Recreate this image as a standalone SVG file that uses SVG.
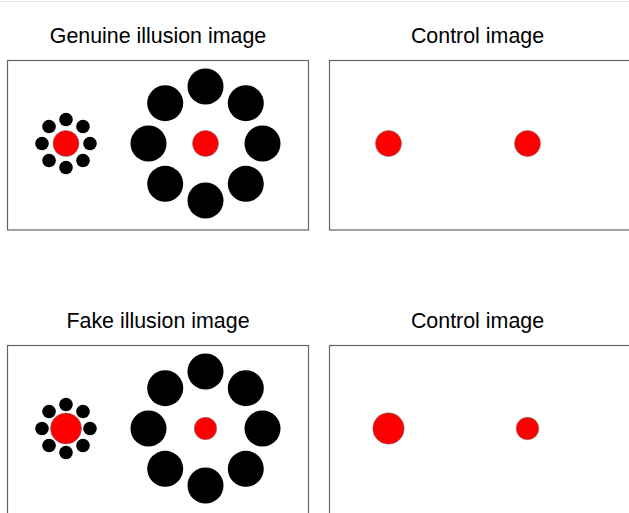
<svg xmlns="http://www.w3.org/2000/svg" xmlns:xlink="http://www.w3.org/1999/xlink" width="629" height="513" viewBox="0 0 629 513">
<style>
.title{font-family:"Liberation Sans",Arial,sans-serif;font-size:21.4px;fill:#000;text-anchor:middle}
.frame{fill:#fff;stroke:#666;stroke-width:1.2}
.red{fill:#ff0000;stroke:#777;stroke-width:0.6}
.blk{fill:#000}
</style>
<defs>
<g id="smallRing">
<circle class="blk" cx="0" cy="-24" r="6.8"/>
<circle class="blk" cx="16.97" cy="-16.97" r="6.8"/>
<circle class="blk" cx="24" cy="0" r="6.8"/>
<circle class="blk" cx="16.97" cy="16.97" r="6.8"/>
<circle class="blk" cx="0" cy="24" r="6.8"/>
<circle class="blk" cx="-16.97" cy="16.97" r="6.8"/>
<circle class="blk" cx="-24" cy="0" r="6.8"/>
<circle class="blk" cx="-16.97" cy="-16.97" r="6.8"/>
</g>
<g id="bigRing">
<circle class="blk" cx="0" cy="-57" r="18"/>
<circle class="blk" cx="40.3" cy="-40.3" r="18"/>
<circle class="blk" cx="57" cy="0" r="18"/>
<circle class="blk" cx="40.3" cy="40.3" r="18"/>
<circle class="blk" cx="0" cy="57" r="18"/>
<circle class="blk" cx="-40.3" cy="40.3" r="18"/>
<circle class="blk" cx="-57" cy="0" r="18"/>
<circle class="blk" cx="-40.3" cy="-40.3" r="18"/>
</g>
</defs>
<rect width="629" height="513" fill="#fff"/>
<line x1="0" y1="1.5" x2="629" y2="1.5" stroke="#e6e6e6" stroke-width="1"/>

<g id="genuine">
<text class="title" x="158" y="43">Genuine illusion image</text>
<rect class="frame" x="7.5" y="60.5" width="301" height="169.5"/>
<use xlink:href="#smallRing" x="66" y="143.5"/>
<circle class="red" cx="66" cy="143.5" r="13"/>
<use xlink:href="#bigRing" x="205.5" y="143.5"/>
<circle class="red" cx="205.5" cy="143.5" r="13"/>
</g>

<g id="control1">
<text class="title" x="477.5" y="43">Control image</text>
<rect class="frame" x="329.5" y="60.5" width="310" height="169.5"/>
<circle class="red" cx="388.5" cy="143.5" r="13"/>
<circle class="red" cx="527.5" cy="143.5" r="13"/>
</g>

<g id="fake">
<text class="title" x="158" y="328">Fake illusion image</text>
<rect class="frame" x="7.5" y="345.5" width="301" height="180"/>
<use xlink:href="#smallRing" x="66" y="428.5"/>
<circle class="red" cx="66" cy="428.5" r="15.5"/>
<use xlink:href="#bigRing" x="205.5" y="428.5"/>
<circle class="red" cx="205.5" cy="428.5" r="11.2"/>
</g>

<g id="control2">
<text class="title" x="477.5" y="328">Control image</text>
<rect class="frame" x="329.5" y="345.5" width="310" height="180"/>
<circle class="red" cx="388.5" cy="428.5" r="15.7"/>
<circle class="red" cx="527.5" cy="428.5" r="11.3"/>
</g>

<g id="connectors"></g>
</svg>
